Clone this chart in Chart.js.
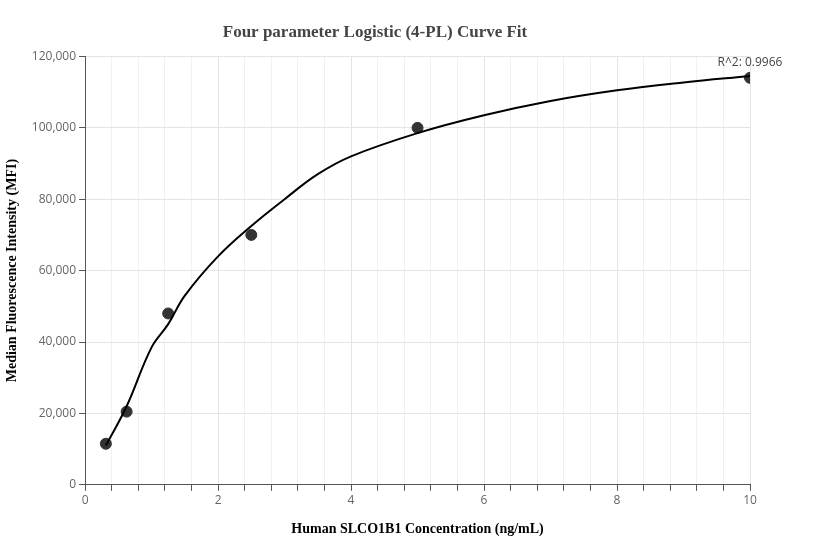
<!DOCTYPE html>
<html><head><meta charset="utf-8">
<script src="https://cdn.jsdelivr.net/npm/chart.js@4"></script>
<style>body{margin:0;background:#fff}#wrap{width:832px;height:560px}</style>
</head><body><div id="wrap"><canvas id="c"></canvas></div>
<script>
// measured standards
const conc = [0.3125, 0.625, 1.25, 2.5, 5, 10];
const mfi = [11500, 20500, 48000, 70000, 100000, 114000];
// fitted curve
const curveX = [0.3125, 0.625, 1, 1.25, 1.5, 2, 2.5, 3, 3.5, 4, 5, 6, 7, 8, 9, 10];
const curveY = [11000, 22000, 38500, 45000, 53000, 64000, 72500, 80000, 87000, 92000, 98500, 103500, 107500, 110500, 112700, 114500];
const rLabel = "R^2: 0.9966";

const rPlugin = {
  id: "rlabel",
  afterDatasetsDraw(chart) {
    const ctx = chart.ctx;
    const x = chart.scales.x.getPixelForValue(conc[conc.length - 1]);
    const y = chart.scales.y.getPixelForValue(mfi[mfi.length - 1]);
    ctx.save();
    ctx.font = "12px 'Open Sans', sans-serif";
    ctx.fillStyle = "#444";
    ctx.textAlign = "center";
    ctx.fillText(rLabel, x, y - 12);
    ctx.restore();
  }
};

new Chart(document.getElementById("c"), {
  type: "scatter",
  data: {
    datasets: [
      {
        type: "line",
        data: curveX.map((x, i) => ({x: x, y: curveY[i]})),
        borderColor: "#000", borderWidth: 2, pointRadius: 0, tension: 0.4, fill: false
      },
      {
        data: conc.map((x, i) => ({x: x, y: mfi[i]})),
        backgroundColor: "#333", borderColor: "#333", pointRadius: 5.5
      }
    ]
  },
  options: {
    responsive: true, maintainAspectRatio: false, animation: false,
    layout: {padding: {left: 0, right: 82, top: 10, bottom: 18}},
    plugins: {
      legend: {display: false},
      tooltip: {enabled: false},
      title: {
        display: true, text: "Four parameter Logistic (4-PL) Curve Fit",
        color: "#444", font: {family: "'Liberation Serif', serif", size: 17, weight: "bold"},
        padding: {top: 12, bottom: 14}
      }
    },
    scales: {
      x: {
        type: "linear", min: 0, max: 10,
        ticks: {
          stepSize: 0.4, autoSkip: false, maxRotation: 0, color: "#666",
          font: {family: "'Open Sans', sans-serif", size: 12},
          callback: v => (Math.abs(v / 2 - Math.round(v / 2)) < 1e-6 ? Math.round(v) : "")
        },
        grid: {
          color: c => (Math.abs(c.tick.value / 2 - Math.round(c.tick.value / 2)) < 1e-6 ? "#e2e5e8" : "#f0f1f3"),
          tickLength: 6, tickColor: "#555"
        },
        border: {color: "#555"},
        title: {
          display: true, text: "Human SLCO1B1 Concentration (ng/mL)", color: "#000",
          font: {family: "'Liberation Serif', serif", size: 14, weight: "bold"}, padding: {top: 10}
        }
      },
      y: {
        min: 0, max: 120000,
        ticks: {stepSize: 20000, color: "#666", font: {family: "'Open Sans', sans-serif", size: 12},
          callback: v => v.toLocaleString("en-US")},
        grid: {color: "#e2e5e8", tickLength: 6, tickColor: "#555"},
        border: {color: "#555"},
        title: {
          display: true, text: "Median Fluorescence Intensity (MFI)", color: "#000",
          font: {family: "'Liberation Serif', serif", size: 14, weight: "bold"}, padding: {bottom: 8}
        }
      }
    }
  },
  plugins: [rPlugin]
});
</script></body></html>
